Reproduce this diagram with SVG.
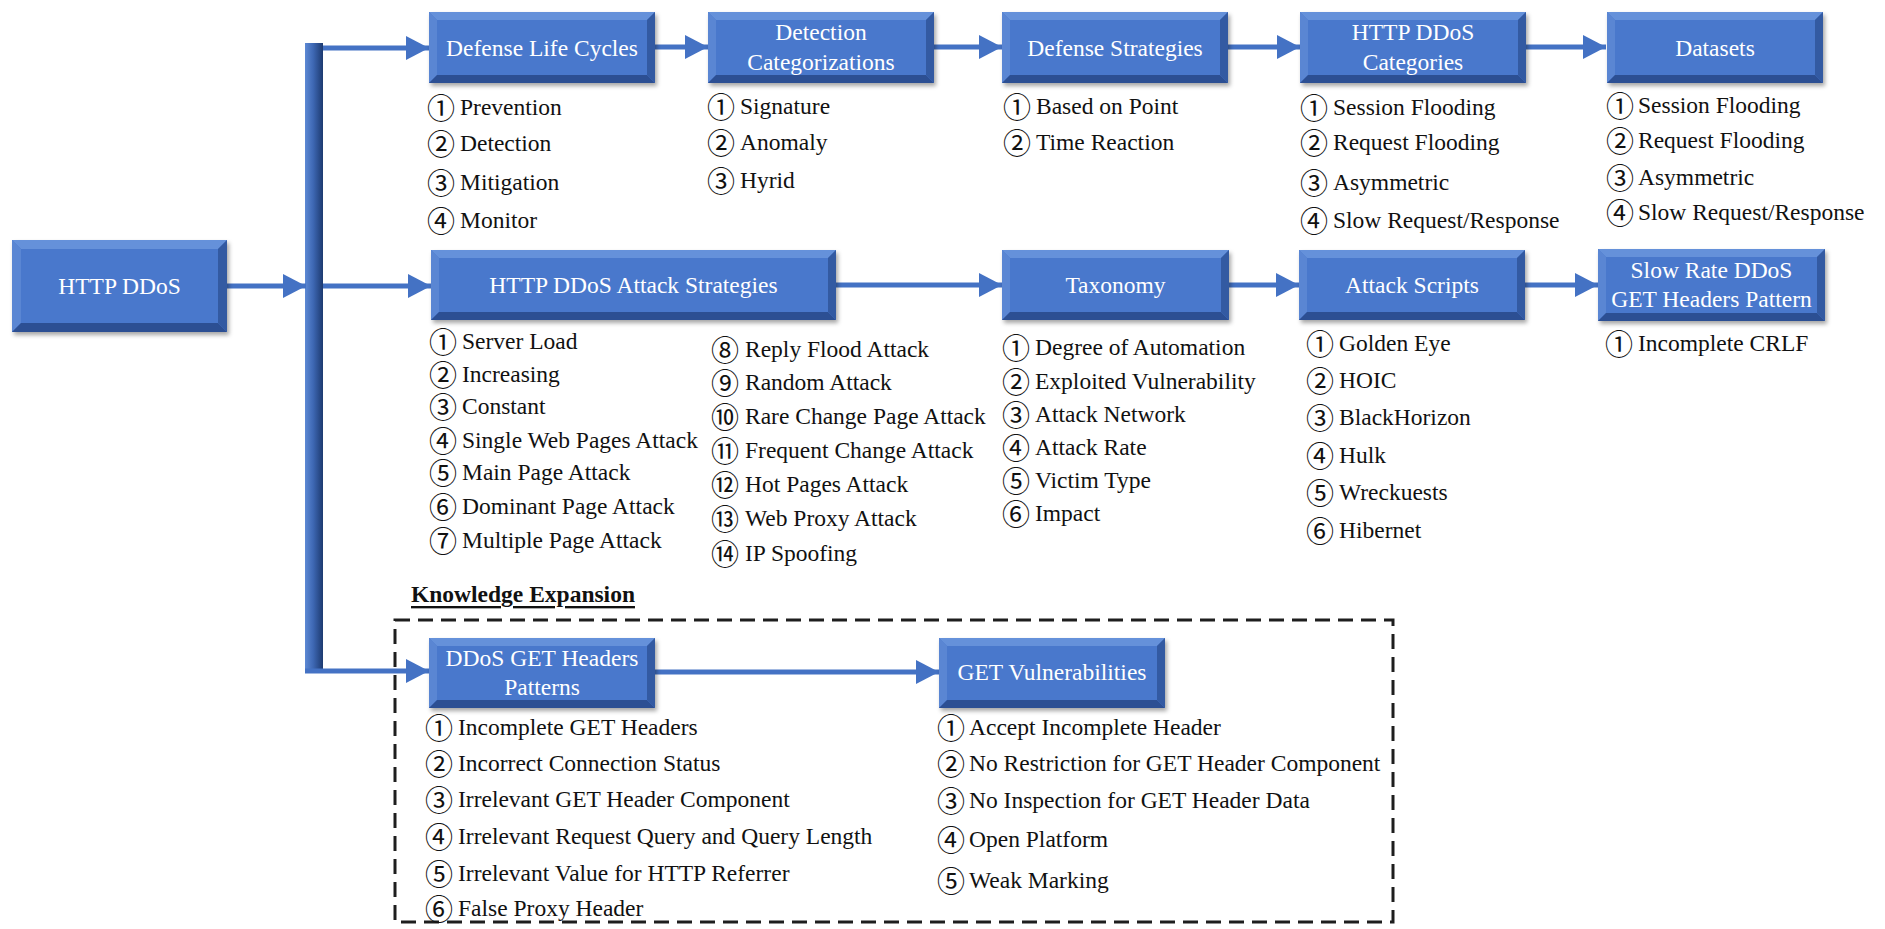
<svg xmlns="http://www.w3.org/2000/svg" width="1885" height="929" viewBox="0 0 1885 929">
  <defs>
    <style>
      text { font-family: "Liberation Serif", "Times New Roman", serif; font-size: 23.5px; dominant-baseline: central; }
      .lbl { fill: #ffffff; text-anchor: middle; }
      .it { fill: #111111; }
      .n { font-family: "Noto Sans CJK JP", "DejaVu Sans", sans-serif; font-size: 28px; }
      .face { fill: #4a78cc; }
      .bt { fill: #6591da; }
      .bl { fill: #5a86d3; }
      .bb { fill: #2c4f93; }
      .br { fill: #335aa2; }
      .conn { fill: none; stroke: #4472c4; stroke-width: 5; }
      .frame { fill: none; stroke: #1e1e1e; stroke-width: 3; stroke-dasharray: 15 8; }
      .title { font-weight: bold; text-decoration: underline; fill: #111111; }
    </style>
    <marker id="head" viewBox="0 0 23 24" refX="23" refY="12" markerWidth="23" markerHeight="24" markerUnits="userSpaceOnUse" orient="auto">
      <path d="M0,0 L23,12 L0,24 z" fill="#4472c4"/>
    </marker>
    <linearGradient id="trunk" x1="0" y1="0" x2="1" y2="0">
      <stop offset="0" stop-color="#5d89d4"/>
      <stop offset="0.45" stop-color="#3e68b4"/>
      <stop offset="1" stop-color="#1d3a70"/>
    </linearGradient>
    <filter id="sh" x="-10%" y="-20%" width="125%" height="150%">
      <feDropShadow dx="2" dy="3" stdDeviation="2" flood-color="#000000" flood-opacity="0.35"/>
    </filter>
  </defs>

  <rect width="1885" height="929" fill="#ffffff"/>

  <!-- connectors: trunk bar and arrows -->
  <g id="connectors">
    <rect x="305" y="43" width="18" height="630" fill="url(#trunk)"/>
    <path class="conn" d="M227,286 H306" marker-end="url(#head)"/>
    <path class="conn" d="M323,48 H429" marker-end="url(#head)"/>
    <path class="conn" d="M323,286 H431" marker-end="url(#head)"/>
    <path class="conn" d="M305,671 H429" marker-end="url(#head)"/>
    <path class="conn" d="M655,47 H708" marker-end="url(#head)"/>
    <path class="conn" d="M934,47 H1002" marker-end="url(#head)"/>
    <path class="conn" d="M1228,47 H1300" marker-end="url(#head)"/>
    <path class="conn" d="M1526,47 H1606" marker-end="url(#head)"/>
    <path class="conn" d="M836,285 H1002" marker-end="url(#head)"/>
    <path class="conn" d="M1229,285 H1299" marker-end="url(#head)"/>
    <path class="conn" d="M1525,285 H1598" marker-end="url(#head)"/>
    <path class="conn" d="M655,672 H939" marker-end="url(#head)"/>
  </g>

  <!-- root node -->
  <g id="n-http-ddos">
    <rect class="face" x="12" y="240" width="215" height="92" filter="url(#sh)"/>
    <polygon class="bt" points="12,240 227,240 218,249 21,249"/>
    <polygon class="bl" points="12,240 21,249 21,323 12,332"/>
    <polygon class="bb" points="12,332 21,323 218,323 227,332"/>
    <polygon class="br" points="227,240 227,332 218,323 218,249"/>
    <text class="lbl" x="119.5" y="286">HTTP DDoS</text>
  </g>

  <!-- top row -->
  <g id="n-defense-life-cycles">
    <rect class="face" x="429" y="12" width="226" height="71" filter="url(#sh)"/>
    <polygon class="bt" points="429,12 655,12 647,20 437,20"/>
    <polygon class="bl" points="429,12 437,20 437,75 429,83"/>
    <polygon class="bb" points="429,83 437,75 647,75 655,83"/>
    <polygon class="br" points="655,12 655,83 647,75 647,20"/>
    <text class="lbl" x="542" y="47.5">Defense Life Cycles</text>
    <text class="it" x="427" y="107"><tspan class="n">①</tspan><tspan x="460">Prevention</tspan></text>
    <text class="it" x="427" y="143"><tspan class="n">②</tspan><tspan x="460">Detection</tspan></text>
    <text class="it" x="427" y="182"><tspan class="n">③</tspan><tspan x="460">Mitigation</tspan></text>
    <text class="it" x="427" y="220"><tspan class="n">④</tspan><tspan x="460">Monitor</tspan></text>
  </g>

  <g id="n-detection-categorizations">
    <rect class="face" x="708" y="12" width="226" height="71" filter="url(#sh)"/>
    <polygon class="bt" points="708,12 934,12 926,20 716,20"/>
    <polygon class="bl" points="708,12 716,20 716,75 708,83"/>
    <polygon class="bb" points="708,83 716,75 926,75 934,83"/>
    <polygon class="br" points="934,12 934,83 926,75 926,20"/>
    <text class="lbl" x="821" y="32">Detection</text>
    <text class="lbl" x="821" y="62">Categorizations</text>
    <text class="it" x="707" y="106"><tspan class="n">①</tspan><tspan x="740">Signature</tspan></text>
    <text class="it" x="707" y="142"><tspan class="n">②</tspan><tspan x="740">Anomaly</tspan></text>
    <text class="it" x="707" y="180"><tspan class="n">③</tspan><tspan x="740">Hyrid</tspan></text>
  </g>

  <g id="n-defense-strategies">
    <rect class="face" x="1002" y="12" width="226" height="71" filter="url(#sh)"/>
    <polygon class="bt" points="1002,12 1228,12 1220,20 1010,20"/>
    <polygon class="bl" points="1002,12 1010,20 1010,75 1002,83"/>
    <polygon class="bb" points="1002,83 1010,75 1220,75 1228,83"/>
    <polygon class="br" points="1228,12 1228,83 1220,75 1220,20"/>
    <text class="lbl" x="1115" y="47.5">Defense Strategies</text>
    <text class="it" x="1003" y="106"><tspan class="n">①</tspan><tspan x="1036">Based on Point</tspan></text>
    <text class="it" x="1003" y="142"><tspan class="n">②</tspan><tspan x="1036">Time Reaction</tspan></text>
  </g>

  <g id="n-http-ddos-categories">
    <rect class="face" x="1300" y="12" width="226" height="71" filter="url(#sh)"/>
    <polygon class="bt" points="1300,12 1526,12 1518,20 1308,20"/>
    <polygon class="bl" points="1300,12 1308,20 1308,75 1300,83"/>
    <polygon class="bb" points="1300,83 1308,75 1518,75 1526,83"/>
    <polygon class="br" points="1526,12 1526,83 1518,75 1518,20"/>
    <text class="lbl" x="1413" y="32">HTTP DDoS</text>
    <text class="lbl" x="1413" y="62">Categories</text>
    <text class="it" x="1300" y="107"><tspan class="n">①</tspan><tspan x="1333">Session Flooding</tspan></text>
    <text class="it" x="1300" y="142"><tspan class="n">②</tspan><tspan x="1333">Request Flooding</tspan></text>
    <text class="it" x="1300" y="182"><tspan class="n">③</tspan><tspan x="1333">Asymmetric</tspan></text>
    <text class="it" x="1300" y="220"><tspan class="n">④</tspan><tspan x="1333">Slow Request/Response</tspan></text>
  </g>

  <g id="n-datasets">
    <rect class="face" x="1607" y="12" width="216" height="71" filter="url(#sh)"/>
    <polygon class="bt" points="1607,12 1823,12 1815,20 1615,20"/>
    <polygon class="bl" points="1607,12 1615,20 1615,75 1607,83"/>
    <polygon class="bb" points="1607,83 1615,75 1815,75 1823,83"/>
    <polygon class="br" points="1823,12 1823,83 1815,75 1815,20"/>
    <text class="lbl" x="1715" y="47.5">Datasets</text>
    <text class="it" x="1606" y="105"><tspan class="n">①</tspan><tspan x="1638">Session Flooding</tspan></text>
    <text class="it" x="1606" y="140"><tspan class="n">②</tspan><tspan x="1638">Request Flooding</tspan></text>
    <text class="it" x="1606" y="177"><tspan class="n">③</tspan><tspan x="1638">Asymmetric</tspan></text>
    <text class="it" x="1606" y="212"><tspan class="n">④</tspan><tspan x="1638">Slow Request/Response</tspan></text>
  </g>

  <!-- middle row -->
  <g id="n-attack-strategies">
    <rect class="face" x="431" y="250" width="405" height="70" filter="url(#sh)"/>
    <polygon class="bt" points="431,250 836,250 828,258 439,258"/>
    <polygon class="bl" points="431,250 439,258 439,312 431,320"/>
    <polygon class="bb" points="431,320 439,312 828,312 836,320"/>
    <polygon class="br" points="836,250 836,320 828,312 828,258"/>
    <text class="lbl" x="633.5" y="285">HTTP DDoS Attack Strategies</text>
    <text class="it" x="429" y="341"><tspan class="n">①</tspan><tspan x="462">Server Load</tspan></text>
    <text class="it" x="429" y="374"><tspan class="n">②</tspan><tspan x="462">Increasing</tspan></text>
    <text class="it" x="429" y="406"><tspan class="n">③</tspan><tspan x="462">Constant</tspan></text>
    <text class="it" x="429" y="440"><tspan class="n">④</tspan><tspan x="462">Single Web Pages Attack</tspan></text>
    <text class="it" x="429" y="472"><tspan class="n">⑤</tspan><tspan x="462">Main Page Attack</tspan></text>
    <text class="it" x="429" y="506"><tspan class="n">⑥</tspan><tspan x="462">Dominant Page Attack</tspan></text>
    <text class="it" x="429" y="540"><tspan class="n">⑦</tspan><tspan x="462">Multiple Page Attack</tspan></text>
    <text class="it" x="711" y="349"><tspan class="n">⑧</tspan><tspan x="745">Reply Flood Attack</tspan></text>
    <text class="it" x="711" y="382"><tspan class="n">⑨</tspan><tspan x="745">Random Attack</tspan></text>
    <text class="it" x="711" y="416"><tspan class="n">⑩</tspan><tspan x="745">Rare Change Page Attack</tspan></text>
    <text class="it" x="711" y="450"><tspan class="n">⑪</tspan><tspan x="745">Frequent Change Attack</tspan></text>
    <text class="it" x="711" y="484"><tspan class="n">⑫</tspan><tspan x="745">Hot Pages Attack</tspan></text>
    <text class="it" x="711" y="518"><tspan class="n">⑬</tspan><tspan x="745">Web Proxy Attack</tspan></text>
    <text class="it" x="711" y="553"><tspan class="n">⑭</tspan><tspan x="745">IP Spoofing</tspan></text>
  </g>

  <g id="n-taxonomy">
    <rect class="face" x="1002" y="250" width="227" height="70" filter="url(#sh)"/>
    <polygon class="bt" points="1002,250 1229,250 1221,258 1010,258"/>
    <polygon class="bl" points="1002,250 1010,258 1010,312 1002,320"/>
    <polygon class="bb" points="1002,320 1010,312 1221,312 1229,320"/>
    <polygon class="br" points="1229,250 1229,320 1221,312 1221,258"/>
    <text class="lbl" x="1115.5" y="285">Taxonomy</text>
    <text class="it" x="1002" y="347"><tspan class="n">①</tspan><tspan x="1035">Degree of Automation</tspan></text>
    <text class="it" x="1002" y="381"><tspan class="n">②</tspan><tspan x="1035">Exploited Vulnerability</tspan></text>
    <text class="it" x="1002" y="414"><tspan class="n">③</tspan><tspan x="1035">Attack Network</tspan></text>
    <text class="it" x="1002" y="447"><tspan class="n">④</tspan><tspan x="1035">Attack Rate</tspan></text>
    <text class="it" x="1002" y="480"><tspan class="n">⑤</tspan><tspan x="1035">Victim Type</tspan></text>
    <text class="it" x="1002" y="513"><tspan class="n">⑥</tspan><tspan x="1035">Impact</tspan></text>
  </g>

  <g id="n-attack-scripts">
    <rect class="face" x="1299" y="250" width="226" height="70" filter="url(#sh)"/>
    <polygon class="bt" points="1299,250 1525,250 1517,258 1307,258"/>
    <polygon class="bl" points="1299,250 1307,258 1307,312 1299,320"/>
    <polygon class="bb" points="1299,320 1307,312 1517,312 1525,320"/>
    <polygon class="br" points="1525,250 1525,320 1517,312 1517,258"/>
    <text class="lbl" x="1412" y="285">Attack Scripts</text>
    <text class="it" x="1306" y="343"><tspan class="n">①</tspan><tspan x="1339">Golden Eye</tspan></text>
    <text class="it" x="1306" y="380"><tspan class="n">②</tspan><tspan x="1339">HOIC</tspan></text>
    <text class="it" x="1306" y="417"><tspan class="n">③</tspan><tspan x="1339">BlackHorizon</tspan></text>
    <text class="it" x="1306" y="455"><tspan class="n">④</tspan><tspan x="1339">Hulk</tspan></text>
    <text class="it" x="1306" y="492"><tspan class="n">⑤</tspan><tspan x="1339">Wreckuests</tspan></text>
    <text class="it" x="1306" y="530"><tspan class="n">⑥</tspan><tspan x="1339">Hibernet</tspan></text>
  </g>

  <g id="n-slow-rate">
    <rect class="face" x="1598" y="249" width="227" height="72" filter="url(#sh)"/>
    <polygon class="bt" points="1598,249 1825,249 1817,257 1606,257"/>
    <polygon class="bl" points="1598,249 1606,257 1606,313 1598,321"/>
    <polygon class="bb" points="1598,321 1606,313 1817,313 1825,321"/>
    <polygon class="br" points="1825,249 1825,321 1817,313 1817,257"/>
    <text class="lbl" x="1711.5" y="270">Slow Rate DDoS</text>
    <text class="lbl" x="1711.5" y="299">GET Headers Pattern</text>
    <text class="it" x="1605" y="343"><tspan class="n">①</tspan><tspan x="1638">Incomplete CRLF</tspan></text>
  </g>

  <!-- knowledge expansion -->
  <text class="title" x="411" y="594">Knowledge Expansion</text>
  <rect id="expansion-frame" class="frame" x="395" y="620" width="998" height="302"/>

  <g id="n-ddos-get-headers">
    <rect class="face" x="429" y="638" width="226" height="70" filter="url(#sh)"/>
    <polygon class="bt" points="429,638 655,638 647,646 437,646"/>
    <polygon class="bl" points="429,638 437,646 437,700 429,708"/>
    <polygon class="bb" points="429,708 437,700 647,700 655,708"/>
    <polygon class="br" points="655,638 655,708 647,700 647,646"/>
    <text class="lbl" x="542" y="658">DDoS GET Headers</text>
    <text class="lbl" x="542" y="687">Patterns</text>
    <text class="it" x="425" y="727"><tspan class="n">①</tspan><tspan x="458">Incomplete GET Headers</tspan></text>
    <text class="it" x="425" y="763"><tspan class="n">②</tspan><tspan x="458">Incorrect Connection Status</tspan></text>
    <text class="it" x="425" y="799"><tspan class="n">③</tspan><tspan x="458">Irrelevant GET Header Component</tspan></text>
    <text class="it" x="425" y="836"><tspan class="n">④</tspan><tspan x="458">Irrelevant Request Query and Query Length</tspan></text>
    <text class="it" x="425" y="873"><tspan class="n">⑤</tspan><tspan x="458">Irrelevant Value for HTTP Referrer</tspan></text>
    <text class="it" x="425" y="908"><tspan class="n">⑥</tspan><tspan x="458">False Proxy Header</tspan></text>
  </g>

  <g id="n-get-vulnerabilities">
    <rect class="face" x="939" y="638" width="226" height="70" filter="url(#sh)"/>
    <polygon class="bt" points="939,638 1165,638 1157,646 947,646"/>
    <polygon class="bl" points="939,638 947,646 947,700 939,708"/>
    <polygon class="bb" points="939,708 947,700 1157,700 1165,708"/>
    <polygon class="br" points="1165,638 1165,708 1157,700 1157,646"/>
    <text class="lbl" x="1052" y="672">GET Vulnerabilities</text>
    <text class="it" x="937" y="727"><tspan class="n">①</tspan><tspan x="969">Accept Incomplete Header</tspan></text>
    <text class="it" x="937" y="763"><tspan class="n">②</tspan><tspan x="969">No Restriction for GET Header Component</tspan></text>
    <text class="it" x="937" y="800"><tspan class="n">③</tspan><tspan x="969">No Inspection for GET Header Data</tspan></text>
    <text class="it" x="937" y="839"><tspan class="n">④</tspan><tspan x="969">Open Platform</tspan></text>
    <text class="it" x="937" y="880"><tspan class="n">⑤</tspan><tspan x="969">Weak Marking</tspan></text>
  </g>
</svg>
